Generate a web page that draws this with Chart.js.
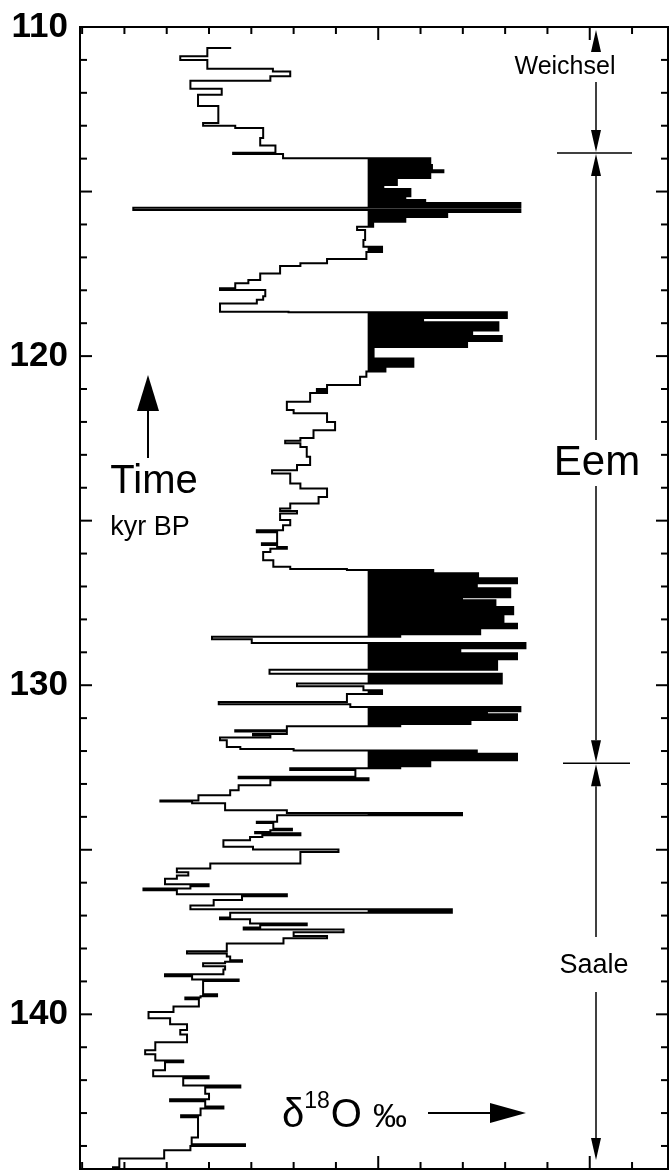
<!DOCTYPE html>
<html>
<head>
<meta charset="utf-8">
<script src="https://cdn.jsdelivr.net/npm/chart.js@4"></script>
<style>
  html, body { margin: 0; padding: 0; background: #fff; }
  #wrap { width: 670px; height: 1171px; position: relative; }
</style>
</head>
<body>
<div id="wrap"><canvas id="gripChart"></canvas></div>
<script>
// ---- data ----
// age (kyr BP) at which the record steps to the new delta-18O value
const ageKyr = [
  110.61, 110.64, 110.89, 111.00, 111.27, 111.35, 111.50, 111.63, 111.88, 112.06,
  112.40, 112.92, 113.00, 113.07, 113.37, 113.60, 113.82, 113.86, 113.99, 114.19,
  114.35, 114.41, 114.59, 114.80, 114.92, 115.14, 115.26, 115.35, 115.49, 115.56,
  115.62, 115.77, 115.92, 116.07, 116.17, 116.47, 116.68, 116.84, 117.05, 117.18,
  117.26, 117.49, 117.69, 117.79, 117.94, 117.99, 118.18, 118.29, 118.40, 118.65,
  118.67, 118.84, 118.97, 119.22, 119.39, 119.54, 119.72, 120.07, 120.32, 120.47,
  120.63, 120.88, 121.00, 121.06, 121.12, 121.39, 121.64, 121.74, 122.00, 122.25,
  122.49, 122.57, 122.65, 122.76, 123.06, 123.31, 123.47, 123.57, 123.87, 124.02,
  124.28, 124.48, 124.63, 124.71, 124.78, 124.98, 125.14, 125.29, 125.35, 125.69,
  125.74, 125.80, 125.85, 125.95, 126.20, 126.40, 126.47, 126.50, 126.60, 126.75,
  126.90, 127.05, 127.33, 127.42, 127.62, 127.84, 128.13, 128.27, 128.45, 128.53,
  128.60, 128.72, 128.88, 129.03, 129.21, 129.53, 129.65, 129.95, 130.03, 130.15,
  130.27, 130.51, 130.58, 130.66, 130.79, 130.88, 131.06, 131.18, 131.25, 131.37,
  131.41, 131.48, 131.52, 131.59, 131.67, 131.88, 131.94, 131.98, 132.08, 132.28,
  132.46, 132.52, 132.58, 132.78, 132.83, 132.89, 133.04, 133.19, 133.34, 133.50,
  133.53, 133.59, 133.80, 133.88, 133.95, 134.15, 134.19, 134.36, 134.41, 134.46,
  134.50, 134.56, 134.61, 134.71, 134.91, 134.99, 135.07, 135.42, 135.57, 135.68,
  135.78, 135.88, 136.05, 136.11, 136.18, 136.23, 136.35, 136.41, 136.53, 136.69,
  136.81, 136.91, 137.06, 137.11, 137.24, 137.29, 137.36, 137.42, 137.51, 137.62,
  137.69, 137.85, 138.08, 138.15, 138.24, 138.36, 138.40, 138.45, 138.54, 138.64,
  138.78, 138.84, 138.94, 138.99, 139.39, 139.45, 139.49, 139.54, 139.76, 139.93,
  140.12, 140.30, 140.48, 140.61, 140.85, 141.09, 141.21, 141.40, 141.46, 141.70,
  141.88, 141.94, 142.16, 142.22, 142.41, 142.58, 142.64, 142.80, 142.86, 143.07,
  143.13, 143.74, 143.95, 144.00, 144.13, 144.38, 144.65, 144.75
];
// delta-18O (per mil)
const d18O = [
  -38.50, -39.04, -39.68, -39.04, -37.49, -37.08, -37.55, -39.44, -38.70, -39.26,
  -38.78, -39.14, -38.38, -37.72, -37.79, -37.43, -38.43, -37.25, -33.77, -33.73,
  -33.46, -33.77, -34.56, -34.88, -34.24, -34.36, -33.89, -31.64, -40.79, -31.64,
  -33.37, -34.36, -35.12, -35.50, -35.31, -35.35, -34.91, -35.28, -36.21, -36.84,
  -37.32, -37.79, -38.07, -38.38, -38.74, -37.67, -37.72, -37.87, -38.74, -37.12,
  -31.96, -33.94, -32.16, -32.78, -32.08, -32.90, -35.11, -34.17, -34.83, -35.28,
  -35.43, -36.21, -36.45, -36.21, -36.61, -37.16, -37.00, -36.21, -36.02, -36.53,
  -36.84, -37.20, -36.84, -36.69, -36.61, -36.92, -37.51, -37.08, -36.84, -36.21,
  -36.41, -37.08, -37.32, -36.92, -37.32, -37.08, -37.25, -37.87, -37.39, -37.75,
  -37.39, -37.16, -37.55, -37.72, -37.48, -37.08, -35.74, -33.70, -32.64, -31.72,
  -32.67, -31.88, -33.02, -32.23, -31.81, -32.04, -31.72, -32.59, -34.48, -38.93,
  -37.99, -31.52, -33.06, -31.72, -32.19, -37.57, -32.08, -36.92, -35.35, -34.91,
  -35.74, -38.77, -35.66, -31.64, -32.43, -31.72, -32.82, -34.48, -37.16, -38.38,
  -37.16, -37.96, -37.55, -38.74, -38.58, -38.26, -37.00, -32.67, -31.72, -33.77,
  -34.48, -37.08, -35.54, -38.30, -35.23, -37.55, -38.30, -38.50, -39.25, -40.15,
  -39.40, -38.62, -37.16, -33.02, -37.39, -37.87, -37.48, -37.04, -37.55, -37.91,
  -36.84, -37.74, -38.03, -38.66, -37.96, -35.94, -36.84, -38.97, -39.76, -39.49,
  -39.76, -40.04, -39.01, -39.44, -40.55, -39.76, -37.16, -38.22, -38.89, -39.44,
  -33.26, -38.50, -38.74, -38.03, -36.69, -37.79, -38.18, -35.82, -37.00, -36.21,
  -37.24, -38.58, -39.52, -38.58, -38.50, -38.22, -38.62, -39.14, -38.62, -38.66,
  -40.04, -39.40, -38.30, -39.14, -38.81, -39.20, -39.56, -39.24, -39.84, -40.43,
  -39.92, -39.52, -39.68, -39.52, -40.27, -40.51, -40.27, -39.61, -40.04, -40.32,
  -39.01, -39.61, -38.26, -39.09, -39.00, -39.92, -39.09, -38.66, -39.20, -39.66,
  -39.26, -39.41, -38.15, -39.44, -40.06, -41.12, -41.27, -41.27
];
// tick labels on the time axis
const timeLabels = [110, 120, 130, 140];
// long ticks on the delta axis
const majorD18O = [-35, -30];
// values warmer than this are shaded black
const FILL_BASE = -35.25;
// stage boundaries (kyr BP)
const weichselEem = 113.83;
const eemSaale = 132.37;

const tracePoints = ageKyr.map((t, i) => ({ x: d18O[i], y: t }));
const warmPoints = ageKyr.map((t, i) => ({ x: Math.max(d18O[i], FILL_BASE), y: t }));

const FONT = '"Liberation Sans", Arial, Helvetica, sans-serif';

function arrow(ctx, x1, y1, x2, y2, len, half) {
    const a = Math.atan2(y2 - y1, x2 - x1);
    const bx = x2 - len * Math.cos(a), by = y2 - len * Math.sin(a);
    ctx.beginPath();
    ctx.moveTo(x1, y1);
    ctx.lineTo(bx, by);
    ctx.stroke();
    ctx.beginPath();
    ctx.moveTo(x2, y2);
    ctx.lineTo(bx - half * Math.sin(a), by + half * Math.cos(a));
    ctx.lineTo(bx + half * Math.sin(a), by - half * Math.cos(a));
    ctx.closePath();
    ctx.fill();
}

function line(ctx, x1, y1, x2, y2) {
    ctx.beginPath();
    ctx.moveTo(x1, y1);
    ctx.lineTo(x2, y2);
    ctx.stroke();
}

// frame, inward ticks and the annotations of the figure
const figureDecor = {
    id: 'figureDecor',
    afterDraw(chart) {
        const ctx = chart.ctx;
        const { left, right, top, bottom } = chart.chartArea;
        const xs = chart.scales.x, ys = chart.scales.y;
        ctx.save();
        ctx.strokeStyle = '#000';
        ctx.fillStyle = '#000';
        ctx.lineWidth = 2;
        ctx.strokeRect(left, top, right - left, bottom - top);

        // time ticks, both sides
        for (let t = Math.ceil(ys.min); t <= Math.floor(ys.max); t++) {
            const py = ys.getPixelForValue(t);
            const len = t % 5 === 0 ? 12 : 7;
            line(ctx, left, py, left + len, py);
            line(ctx, right, py, right - len, py);
        }
        // delta ticks, top and bottom
        for (let v = Math.ceil(xs.min); v <= Math.floor(xs.max); v++) {
            const px = xs.getPixelForValue(v);
            const len = majorD18O.includes(v) ? 13 : 7;
            line(ctx, px, top, px, top + len);
            line(ctx, px, bottom, px, bottom - len);
        }

        // stage arrows
        ctx.lineWidth = 1.5;
        const ax = 596;
        const yb1 = ys.getPixelForValue(weichselEem);
        const yb2 = ys.getPixelForValue(eemSaale);
        line(ctx, 557, yb1, 632, yb1);
        line(ctx, 563, yb2, 630, yb2);
        arrow(ctx, ax, 52, ax, top + 3, 22, 5);
        arrow(ctx, ax, 82, ax, yb1 - 1, 22, 5);
        arrow(ctx, ax, 440, ax, yb1 + 1, 22, 5);
        arrow(ctx, ax, 486, ax, yb2 - 1, 22, 5);
        arrow(ctx, ax, 937, ax, yb2 + 1, 22, 5);
        arrow(ctx, ax, 992, ax, 1160, 22, 5);

        ctx.textAlign = 'center';
        ctx.textBaseline = 'middle';
        ctx.font = '25px ' + FONT;
        ctx.fillText('Weichsel', 565, 67);
        ctx.font = '42px ' + FONT;
        ctx.fillText('Eem', 597, 463);
        ctx.font = '27px ' + FONT;
        ctx.fillText('Saale', 594, 966);

        // time axis caption
        ctx.lineWidth = 2;
        arrow(ctx, 148, 458, 148, 375, 36, 11);
        ctx.font = '40px ' + FONT;
        ctx.fillText('Time', 154, 482);
        ctx.font = '27px ' + FONT;
        ctx.fillText('kyr BP', 150, 528);

        // delta axis caption
        ctx.textAlign = 'left';
        ctx.textBaseline = 'alphabetic';
        let x = 282;
        ctx.font = '40px ' + FONT;
        ctx.fillText('δ', x, 1127);
        x += ctx.measureText('δ').width;
        ctx.font = '23px ' + FONT;
        ctx.fillText('18', x, 1108);
        x += ctx.measureText('18').width + 1;
        ctx.font = '40px ' + FONT;
        ctx.fillText('O', x, 1127);
        x += ctx.measureText('O ').width;
        ctx.font = '34px ' + FONT;
        ctx.fillText('‰', x, 1127);
        arrow(ctx, 428, 1113, 526, 1113, 36, 10);
        ctx.restore();
    }
};

new Chart(document.getElementById('gripChart'), {
    type: 'line',
    data: {
        datasets: [{
            label: 'δ18O',
            data: tracePoints,
            borderColor: '#000',
            borderWidth: 2,
            stepped: 'after',
            fill: false,
            pointRadius: 0
        }, {
            label: 'warm',
            data: warmPoints,
            borderColor: 'rgba(0,0,0,0)',
            borderWidth: 1,
            backgroundColor: '#000',
            stepped: 'after',
            fill: { value: FILL_BASE },
            pointRadius: 0
        }]
    },
    plugins: [figureDecor],
    options: {
        indexAxis: 'y',
        responsive: true,
        maintainAspectRatio: false,
        animation: false,
        layout: { padding: { top: 27, right: 2, bottom: 2, left: 0 } },
        plugins: { legend: { display: false }, tooltip: { enabled: false } },
        scales: {
            x: {
                type: 'linear',
                display: false,
                min: -42.05,
                max: -28.15
            },
            y: {
                type: 'linear',
                reverse: true,
                min: 110,
                max: 144.7,
                // fixed axis width, no extra room for the end labels
                afterFit: s => { s.width = 80; s.paddingTop = 0; s.paddingBottom = 0; },
                grid: { display: false, drawTicks: false },
                border: { display: false },
                ticks: {
                    stepSize: 1,
                    autoSkip: false,
                    padding: 12,
                    color: '#000',
                    font: { family: FONT, weight: 'bold', size: 35 },
                    callback: v => timeLabels.includes(v) ? String(v) : ''
                }
            }
        }
    }
});
</script>
</body>
</html>
